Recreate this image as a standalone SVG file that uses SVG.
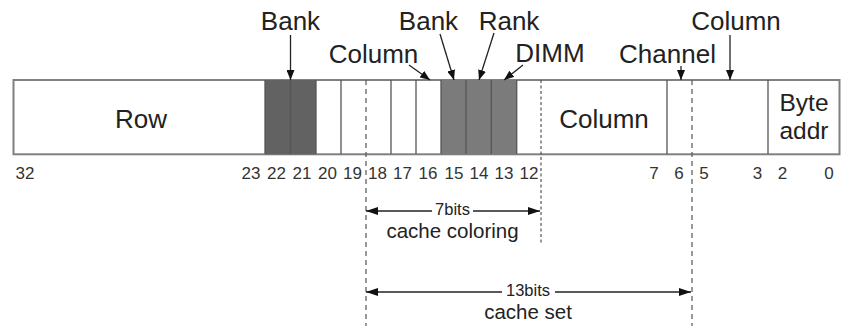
<svg xmlns="http://www.w3.org/2000/svg" width="842" height="326" viewBox="0 0 842 326">
<style>
text{font-family:"Liberation Sans",Arial,sans-serif;fill:#222;text-anchor:middle}
.lbl{font-size:26px}
.ba{font-size:24.5px}
.num{font-size:17px;fill:#333}
.dim{font-size:16.5px}
.sub{font-size:20.5px}
.cell{stroke:#555;stroke-width:1.3}
.arr{stroke:#222;stroke-width:1.3;fill:none;marker-end:url(#ah)}
.dash{stroke:#555;stroke-width:1.2;fill:none}
.dimline{stroke:#222;stroke-width:1.3;fill:none;marker-start:url(#ah2);marker-end:url(#ah2)}
</style>
<defs>
<marker id="ah" viewBox="0 0 10 8" refX="10" refY="4" markerWidth="10" markerHeight="8" markerUnits="userSpaceOnUse" orient="auto"><path d="M0,0 L10,4 L0,8 z" fill="#111"/></marker>
<marker id="ah2" viewBox="0 0 12 8" refX="12" refY="4" markerWidth="12" markerHeight="8" markerUnits="userSpaceOnUse" orient="auto-start-reverse"><path d="M0,0 L12,4 L0,8 z" fill="#111"/></marker>
</defs>
<rect width="842" height="326" fill="#fff"/>
<g id="bar">
<rect x="13.5" y="80" width="826" height="74.3" fill="#fff" stroke="#808080" stroke-width="2"/>
<rect x="265" y="80" width="25.5" height="74.3" fill="#626262"/>
<rect x="290.5" y="80" width="25.5" height="74.3" fill="#626262"/>
<rect x="441" y="80" width="25" height="74.3" fill="#7b7b7b"/>
<rect x="466" y="80" width="25.3" height="74.3" fill="#7b7b7b"/>
<rect x="491.3" y="80" width="25.4" height="74.3" fill="#7b7b7b"/>
<g class="cell">
<line x1="265" y1="80" x2="265" y2="154"/>
<line x1="290.5" y1="80" x2="290.5" y2="154"/>
<line x1="316" y1="80" x2="316" y2="154"/>
<line x1="341" y1="80" x2="341" y2="154"/>
<line x1="391" y1="80" x2="391" y2="154"/>
<line x1="416" y1="80" x2="416" y2="154"/>
<line x1="441" y1="80" x2="441" y2="154"/>
<line x1="466" y1="80" x2="466" y2="154"/>
<line x1="491.3" y1="80" x2="491.3" y2="154"/>
<line x1="516.7" y1="80" x2="516.7" y2="154"/>
<line x1="667" y1="80" x2="667" y2="154"/>
<line x1="768" y1="80" x2="768" y2="154"/>
</g>
<text class="lbl" x="141" y="128">Row</text>
<text class="lbl" x="604" y="128">Column</text>
<text class="ba" x="804" y="111">Byte</text>
<text class="ba" x="804" y="139">addr</text>
</g>
<g id="bit-numbers">
<text class="num" x="25" y="179">32</text>
<text class="num" x="251" y="179">23</text>
<text class="num" x="276.5" y="179">22</text>
<text class="num" x="302" y="179">21</text>
<text class="num" x="327.5" y="179">20</text>
<text class="num" x="352.5" y="179">19</text>
<text class="num" x="377.5" y="179">18</text>
<text class="num" x="402.5" y="179">17</text>
<text class="num" x="428" y="179">16</text>
<text class="num" x="454" y="179">15</text>
<text class="num" x="479" y="179">14</text>
<text class="num" x="504" y="179">13</text>
<text class="num" x="529" y="179">12</text>
<text class="num" x="654" y="179">7</text>
<text class="num" x="679" y="179">6</text>
<text class="num" x="704" y="179">5</text>
<text class="num" x="757.5" y="179">3</text>
<text class="num" x="782.5" y="179">2</text>
<text class="num" x="829" y="179">0</text>
</g>
<g id="labels">
<text class="lbl" x="290.5" y="29.5">Bank</text>
<text class="lbl" x="428.5" y="29.5">Bank</text>
<text class="lbl" x="509" y="29.5">Rank</text>
<text class="lbl" x="736" y="29.5">Column</text>
<text class="lbl" x="373.5" y="63">Column</text>
<text class="lbl" x="550" y="62">DIMM</text>
<text class="lbl" x="667.5" y="63">Channel</text>
</g>
<g id="connectors">
<line class="arr" x1="290.5" y1="35" x2="290.5" y2="80"/>
<line class="arr" x1="409" y1="65" x2="430" y2="80"/>
<line class="arr" x1="440" y1="34" x2="454" y2="80"/>
<line class="arr" x1="494" y1="33" x2="479" y2="80"/>
<line class="arr" x1="523" y1="65" x2="504" y2="80"/>
<line class="arr" x1="681" y1="66" x2="681" y2="80"/>
<line class="arr" x1="730" y1="35" x2="730" y2="80"/>
<line class="dash" x1="366" y1="80" x2="366" y2="326" stroke-dasharray="5 4"/>
<line class="dash" x1="541" y1="80" x2="541" y2="245" stroke-dasharray="3 2.5"/>
<line class="dash" x1="692" y1="80" x2="692" y2="326" stroke-dasharray="5 4"/>
<line class="dimline" x1="366" y1="211" x2="540" y2="211"/>
<line class="dimline" x1="366" y1="292" x2="691" y2="292"/>
</g>
<g id="cache-coloring">
<rect x="432" y="203" width="41" height="14" fill="#fff"/>
<text class="dim" x="452.5" y="215">7bits</text>
<text class="sub" x="452.5" y="238">cache coloring</text>
</g>
<g id="cache-set">
<rect x="502" y="284" width="53" height="14" fill="#fff"/>
<text class="dim" x="528" y="296">13bits</text>
<text class="sub" x="528" y="319">cache set</text>
</g>
</svg>
